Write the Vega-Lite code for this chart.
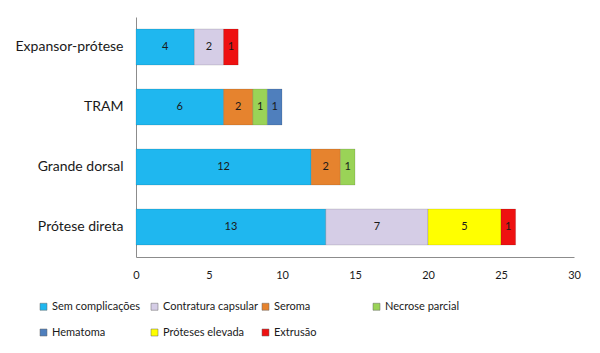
{
  "$schema": "https://vega.github.io/schema/vega-lite/v6.json",
  "width": 438,
  "height": 240,
  "autosize": {"type": "none"},
  "padding": {"left": 136, "top": 17, "right": 26, "bottom": 96},
  "background": "white",
  "config": {
    "view": {"stroke": null},
    "font": "Lato",
    "axis": {"labelFont": "Lato", "labelColor": "#1a1a1a", "domainColor": "#8c8c8c", "grid": false, "ticks": false, "title": null}
  },
  "data": {
    "values": [
      {"tecnica": "Expansor-prótese", "categoria": "Sem complicações", "n": 4, "ord": 1},
      {"tecnica": "Expansor-prótese", "categoria": "Contratura capsular", "n": 2, "ord": 2},
      {"tecnica": "Expansor-prótese", "categoria": "Extrusão", "n": 1, "ord": 7},
      {"tecnica": "TRAM", "categoria": "Sem complicações", "n": 6, "ord": 1},
      {"tecnica": "TRAM", "categoria": "Seroma", "n": 2, "ord": 3},
      {"tecnica": "TRAM", "categoria": "Necrose parcial", "n": 1, "ord": 4},
      {"tecnica": "TRAM", "categoria": "Hematoma", "n": 1, "ord": 5},
      {"tecnica": "Grande dorsal", "categoria": "Sem complicações", "n": 12, "ord": 1},
      {"tecnica": "Grande dorsal", "categoria": "Seroma", "n": 2, "ord": 3},
      {"tecnica": "Grande dorsal", "categoria": "Necrose parcial", "n": 1, "ord": 4},
      {"tecnica": "Prótese direta", "categoria": "Sem complicações", "n": 13, "ord": 1},
      {"tecnica": "Prótese direta", "categoria": "Contratura capsular", "n": 7, "ord": 2},
      {"tecnica": "Prótese direta", "categoria": "Próteses elevada", "n": 5, "ord": 6},
      {"tecnica": "Prótese direta", "categoria": "Extrusão", "n": 1, "ord": 7}
    ]
  },
  "encoding": {
    "y": {
      "field": "tecnica", "type": "nominal",
      "sort": ["Expansor-prótese", "TRAM", "Grande dorsal", "Prótese direta"],
      "scale": {"paddingInner": 0.4, "paddingOuter": 0.2},
      "axis": {"labelFontSize": 14, "labelPadding": 13, "domain": true}
    }
  },
  "layer": [
    {
      "mark": {"type": "bar", "stroke": "#000000", "strokeOpacity": 0.12, "strokeWidth": 1},
      "encoding": {
        "x": {
          "field": "n", "type": "quantitative", "stack": "zero",
          "scale": {"domain": [0, 30], "nice": false},
          "axis": {"values": [0, 5, 10, 15, 20, 25, 30], "labelFontSize": 11, "labelPadding": 12, "labelFlush": false}
        },
        "order": {"field": "ord", "type": "quantitative"},
        "color": {
          "field": "categoria", "type": "nominal",
          "scale": {
            "domain": ["Sem complicações", "Contratura capsular", "Seroma", "Necrose parcial", "Hematoma", "Próteses elevada", "Extrusão"],
            "range": ["#1fb7ef", "#d5cde6", "#e6832e", "#9ad357", "#4f7fbd", "#ffff00", "#ee1111"]
          },
          "legend": {
            "orient": "none",
            "legendX": -98,
            "legendY": 284,
            "direction": "horizontal",
            "columns": 4,
            "gridAlign": "all",
            "title": null,
            "symbolType": "square",
            "symbolSize": 49,
            "symbolStrokeWidth": 0.5,
            "symbolStrokeColor": "#666666",
            "labelFont": "Lato",
            "labelFontSize": 11,
            "labelColor": "#1a1a1a",
            "labelOffset": 3,
            "columnPadding": 2,
            "rowPadding": 14,
            "labelLimit": 0
          }
        }
      }
    },
    {
      "mark": {"type": "text", "fontSize": 11, "color": "#1a1a1a", "font": "Lato"},
      "encoding": {
        "x": {"field": "n", "type": "quantitative", "stack": "zero", "bandPosition": 0.5},
        "order": {"field": "ord", "type": "quantitative"},
        "detail": {"field": "categoria"},
        "text": {"field": "n", "type": "quantitative"}
      }
    }
  ]
}
